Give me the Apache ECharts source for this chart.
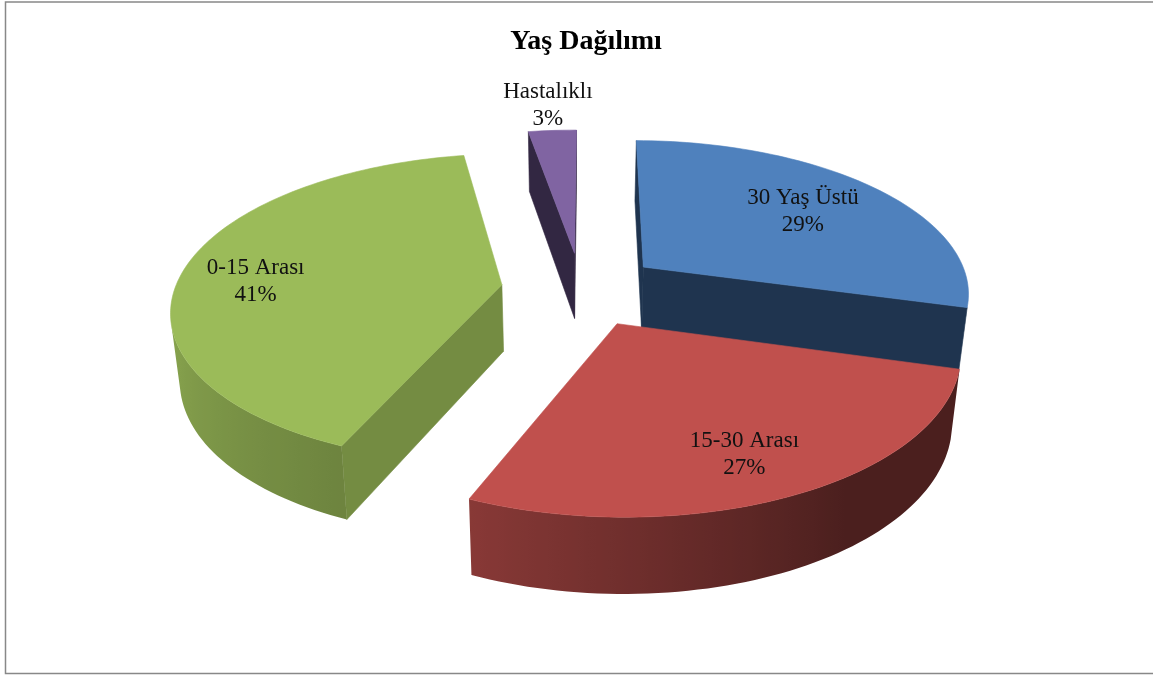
<!DOCTYPE html>
<html>
<head>
<meta charset="utf-8">
<style>
    html,body{margin:0;padding:0;background:#fff;}
    #chart{width:1153px;height:675px;}
</style>
<script src="https://cdn.jsdelivr.net/npm/echarts@6/dist/echarts.min.js"></script>
</head>
<body>
<div id="chart"></div>
<script>
    const categories = ['30 Yaş Üstü', '15-30 Arası', '0-15 Arası', 'Hastalıklı'];
    const values = [29.2, 27.1, 40.9, 2.8];     // the labels show them rounded
    const chartTitle = 'Yaş Dağılımı';

    const topColors = ['#4f81bd', '#c0504d', '#9bbb59', '#8064a2'];
    const cutColors = ['#1f344f', '#4e1f1d', '#748c42', '#322742'];
    const labelRadius = [0.68, 0.78, 0.76, 1.24];   // where the label sits along the mid angle
    const labelTurn = [0, 1.5, -5, 0];

    // projection of the tilted pie, fitted to the picture
    const view = {vx: 575, cy: 289, squash: 0.465, persp: 0.000468, radius: 327, explode: 80, shiftX: 6, rotate: 0.4};
    const total = values.reduce((a, b) => a + b, 0);
    const rad = d => d * Math.PI / 180;

    let sum = 0;
    const slices = values.map(v => {
        const start = view.rotate + sum / total * 360;
        sum += v;
        return {start, end: view.rotate + sum / total * 360, mid: start + v / total * 180};
    });
    const backToFront = slices.map((s, i) => i)
        .sort((a, b) => Math.cos(rad(slices[b].mid)) - Math.cos(rad(slices[a].mid)));

    function project(x, y) {
        const s = 1 / (1 - view.persp * y);
        return [view.vx + x * s, view.cy + view.squash * y * s];
    }
    function drop(p) {      // same point on the bottom of the disc
        return [view.vx + (p[0] - view.vx) * 0.977, p[1] + 54 + 0.044 * p[1]];
    }
    function onSlice(slice, angle, r) {
        const m = rad(slice.mid), a = rad(angle);
        const x = view.shiftX + view.explode * Math.sin(m) + r * Math.sin(a);
        const y = -view.explode * Math.cos(m) - r * Math.cos(a);
        return project(x, y);
    }
    function area(pts) {
        let t = 0;
        pts.forEach((p, i) => {
            const q = pts[(i + 1) % pts.length];
            t += p[0] * q[1] - q[0] * p[1];
        });
        return t;
    }
    function shade(hex, f) {
        const n = parseInt(hex.slice(1), 16);
        const c = [n >> 16, (n >> 8) & 255, n & 255].map(v => Math.round(v * f));
        return `rgb(${c[0]},${c[1]},${c[2]})`;
    }
    function wallFactor(angle) {    // outer wall gets lighter going round to the left
        if (angle < 145) return 0.39;
        if (angle < 201) return 0.39 + (angle - 145) * 0.0055;
        return Math.min(0.96, 0.70 + (angle - 201) * 0.0033);
    }

    function renderSlice(params) {
        const i = params.dataIndex;
        const slice = slices[i];
        const rank = backToFront.indexOf(i) * 1000;
        const children = [];
        const poly = (points, fill, stroke, z2) => children.push({
            type: 'polygon',
            z2: rank + z2,
            shape: {points},
            style: {fill, stroke, lineWidth: stroke ? 0.6 : 0}
        });

        const apex = onSlice(slice, 0, 0);
        const steps = Math.ceil((slice.end - slice.start) / 1.5);
        const rim = [];
        for (let k = 0; k <= steps; k++) {
            rim.push(onSlice(slice, slice.start + (slice.end - slice.start) * k / steps, view.radius));
        }

        const cut = (a, b) => {
            const quad = [a, b, drop(b), drop(a)];
            if (area(quad) < 0) poly(quad, cutColors[i], cutColors[i], 1);
        };
        cut(apex, rim[0]);
        cut(rim[steps], apex);

        // the part of the outer wall that faces us, as one shape with one gradient
        const seen = [];
        for (let k = 0; k < steps; k++) {
            if (area([rim[k], rim[k + 1], drop(rim[k + 1]), drop(rim[k])]) < 0) {
                if (!seen.length) seen.push(k);
                seen.push(k + 1);
            }
        }
        if (seen.length) {
            const upper = seen.map(k => rim[k]);
            const lower = seen.map(k => drop(rim[k])).reverse();
            const xs = upper.map(p => p[0]);
            const x0 = Math.min.apply(null, xs), x1 = Math.max.apply(null, xs);
            const stops = seen.map(k => ({
                offset: (rim[k][0] - x0) / (x1 - x0),
                color: shade(topColors[i], wallFactor(slice.start + (slice.end - slice.start) * k / steps))
            })).sort((a, b) => a.offset - b.offset);
            const fill = new echarts.graphic.LinearGradient(x0, 0, x1, 0, stops, true);
            poly(upper.concat(lower), fill, null, 2);
        }
        poly([apex].concat(rim), topColors[i], topColors[i], 500);

        const at = onSlice(slice, slice.mid + labelTurn[i], view.radius * labelRadius[i]);
        children.push({
            type: 'text',
            z2: 9000,
            x: at[0],
            y: at[1],
            style: {
                text: `${categories[i]}\n${Math.round(values[i])}%`,
                fill: '#111',
                font: '23px "Liberation Serif"',
                lineHeight: 27,
                align: 'center',
                verticalAlign: 'middle'
            }
        });
        return {type: 'group', children};
    }

    const chart = echarts.init(document.getElementById('chart'));
    chart.setOption({
        animation: false,
        backgroundColor: '#fff',
        title: {
            text: chartTitle,
            left: 581,
            top: 23,
            textAlign: 'center',
            textStyle: {
                color: '#000',
                fontFamily: 'Liberation Serif',
                fontWeight: 'bold',
                fontSize: 28
            }
        },
        graphic: [{
            type: 'rect',
            silent: true,
            shape: {x: 5.5, y: 2, width: 1170, height: 671.5},
            style: {fill: 'none', stroke: '#888', lineWidth: 1.5}
        }],
        series: [{
            type: 'custom',
            coordinateSystem: 'none',
            silent: true,
            renderItem: renderSlice,
            data: values
        }]
    });
</script>
</body>
</html>
